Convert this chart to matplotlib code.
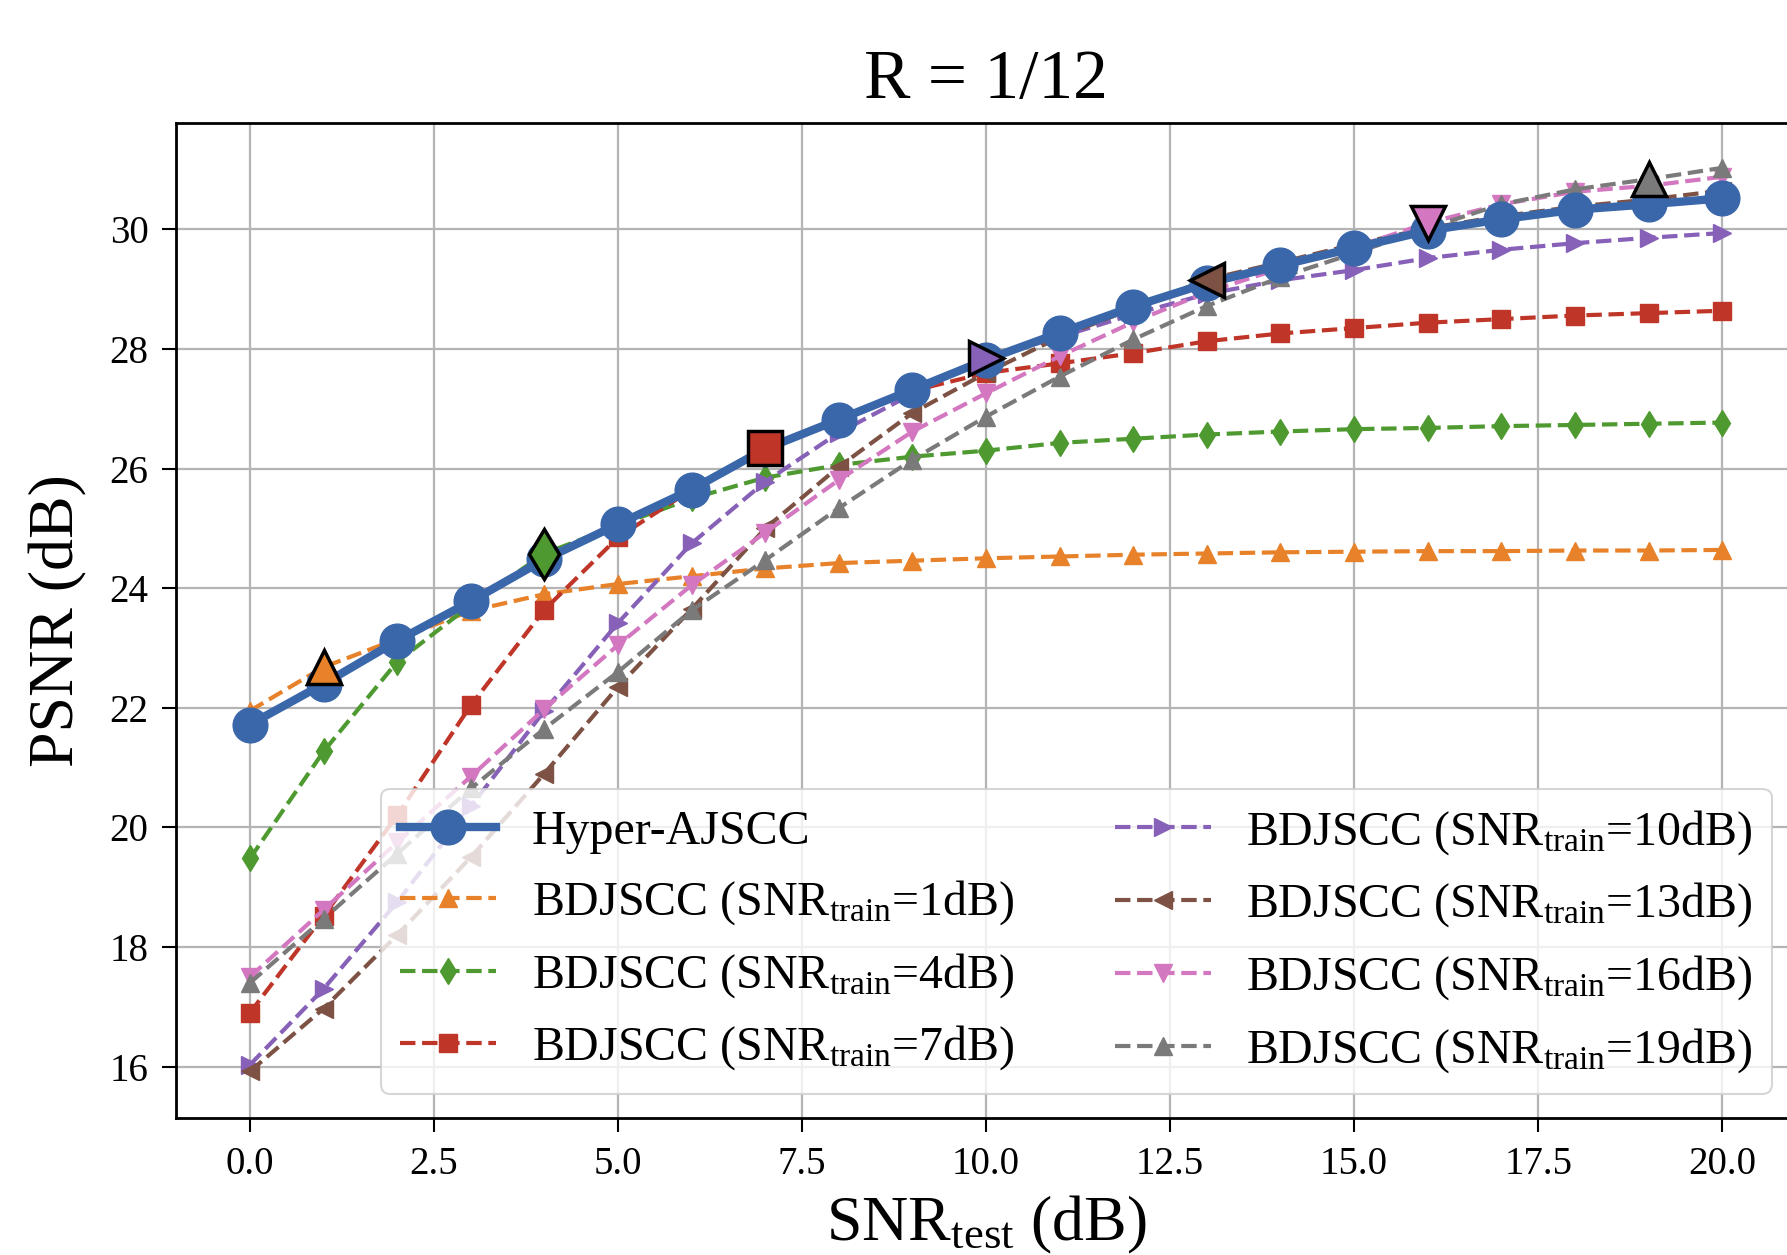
import numpy as np
import matplotlib
matplotlib.use("Agg")
import matplotlib.pyplot as plt

plt.rcParams['font.family'] = ['Liberation Serif', 'DejaVu Serif']
plt.rcParams['mathtext.fontset'] = 'custom'
plt.rcParams['mathtext.rm'] = 'Liberation Serif'
plt.rcParams['mathtext.it'] = 'Liberation Serif:italic'
plt.rcParams['mathtext.bf'] = 'Liberation Serif:bold'

# ---- data ----
snr_test = list(range(0, 21))

hyper_ajscc = [21.72, 22.40, 23.12, 23.78, 24.48, 25.07, 25.65, 26.33, 26.82, 27.32,
               27.82, 28.27, 28.71, 29.10, 29.40, 29.69, 29.98, 30.17, 30.33, 30.42, 30.52]

bd_1 = [21.95, 22.68, 23.15, 23.62, 23.90, 24.07, 24.20, 24.33, 24.42, 24.46,
        24.50, 24.53, 24.56, 24.58, 24.60, 24.61, 24.62, 24.62, 24.63, 24.63, 24.64]
bd_4 = [19.48, 21.27, 22.77, 23.72, 24.58, 25.05, 25.50, 25.85, 26.06, 26.20,
        26.30, 26.43, 26.50, 26.57, 26.62, 26.66, 26.68, 26.71, 26.73, 26.75, 26.77]
bd_7 = [16.90, 18.52, 20.20, 22.04, 23.64, 24.85, 25.65, 26.34, 26.85, 27.30,
        27.60, 27.76, 27.93, 28.13, 28.26, 28.35, 28.44, 28.50, 28.56, 28.60, 28.64]
bd_10 = [16.03, 17.30, 18.75, 20.35, 21.95, 23.42, 24.75, 25.78, 26.60, 27.25,
         27.85, 28.20, 28.58, 28.92, 29.15, 29.32, 29.52, 29.66, 29.77, 29.86, 29.94]
bd_13 = [15.92, 16.97, 18.20, 19.50, 20.90, 22.35, 23.65, 25.00, 26.03, 26.93,
         27.60, 28.20, 28.68, 29.16, 29.45, 29.75, 30.02, 30.22, 30.38, 30.50, 30.65]
bd_16 = [17.50, 18.62, 19.75, 20.85, 21.98, 23.05, 24.05, 24.93, 25.81, 26.62,
         27.26, 27.88, 28.45, 28.95, 29.35, 29.70, 30.11, 30.42, 30.63, 30.73, 30.88]
bd_19 = [17.40, 18.47, 19.56, 20.65, 21.65, 22.60, 23.63, 24.47, 25.34, 26.15,
         26.87, 27.54, 28.16, 28.72, 29.20, 29.60, 30.02, 30.42, 30.67, 30.84, 31.03]

train_snrs = [1, 4, 7, 10, 13, 16, 19]
bd_series = [bd_1, bd_4, bd_7, bd_10, bd_13, bd_16, bd_19]
bd_labels = [r'BDJSCC (SNR$_{\mathrm{train}}$=%ddB)' % s for s in train_snrs]
bd_colors = ['#E8822A', '#4E9A30', '#BF3629', '#8760B8', '#7D5244', '#D377C0', '#7A7A7A']
bd_markers = ['^', 'd', 's', '>', '<', 'v', '^']
hyper_color = '#3A67AA'

x_ticks = [0.0, 2.5, 5.0, 7.5, 10.0, 12.5, 15.0, 17.5, 20.0]
y_ticks = [16, 18, 20, 22, 24, 26, 28, 30]

# ---- figure ----
fig = plt.figure(figsize=(17.87, 12.55), dpi=100)
ax = fig.add_axes([0.0987, 0.1092, 0.9062, 0.7928])

ax.plot(snr_test, hyper_ajscc, '-o', color=hyper_color, lw=6.0, markersize=25,
        label='Hyper-AJSCC', zorder=4)

for ys, lab, c, m in zip(bd_series, bd_labels, bd_colors, bd_markers):
    ax.plot(snr_test, ys, '--', marker=m, color=c, lw=3.0, markersize=13,
            label=lab, zorder=3)

for s, ys, c, m in zip(train_snrs, bd_series, bd_colors, bd_markers):
    ax.plot([s], [ys[snr_test.index(s)]], linestyle='none', marker=m, color=c,
            markersize=25, markeredgecolor='black', markeredgewidth=2.5, zorder=5)

ax.set_xlim(-1, 21)
ax.set_ylim(15.14, 31.78)
ax.set_xticks(x_ticks)
ax.set_xticklabels(['%.1f' % v for v in x_ticks])
ax.set_yticks(y_ticks)

ax.grid(True, color='#b4b4b4', linewidth=1.6)
ax.set_axisbelow(True)
for sp in ax.spines.values():
    sp.set_linewidth(2.0)
    sp.set_color('black')
ax.tick_params(axis='both', which='major', labelsize=28, length=10, width=1.5,
               direction='out', pad=10)

ax.set_title('R = 1/12', fontsize=50, pad=18)
ax.set_xlabel(r'SNR$_{\mathrm{test}}$ (dB)', fontsize=46, labelpad=8)
ax.set_ylabel('PSNR (dB)', fontsize=46, labelpad=16)

leg = ax.legend(loc='lower right', ncol=2, fontsize=34.5, handlelength=2.0,
                handletextpad=0.75, columnspacing=2.1, labelspacing=0.5,
                borderpad=0.4, framealpha=0.8, fancybox=True)
leg.get_frame().set_edgecolor('#cccccc')
leg.get_frame().set_linewidth(1.5)

fig.savefig('out.png', dpi=100)
